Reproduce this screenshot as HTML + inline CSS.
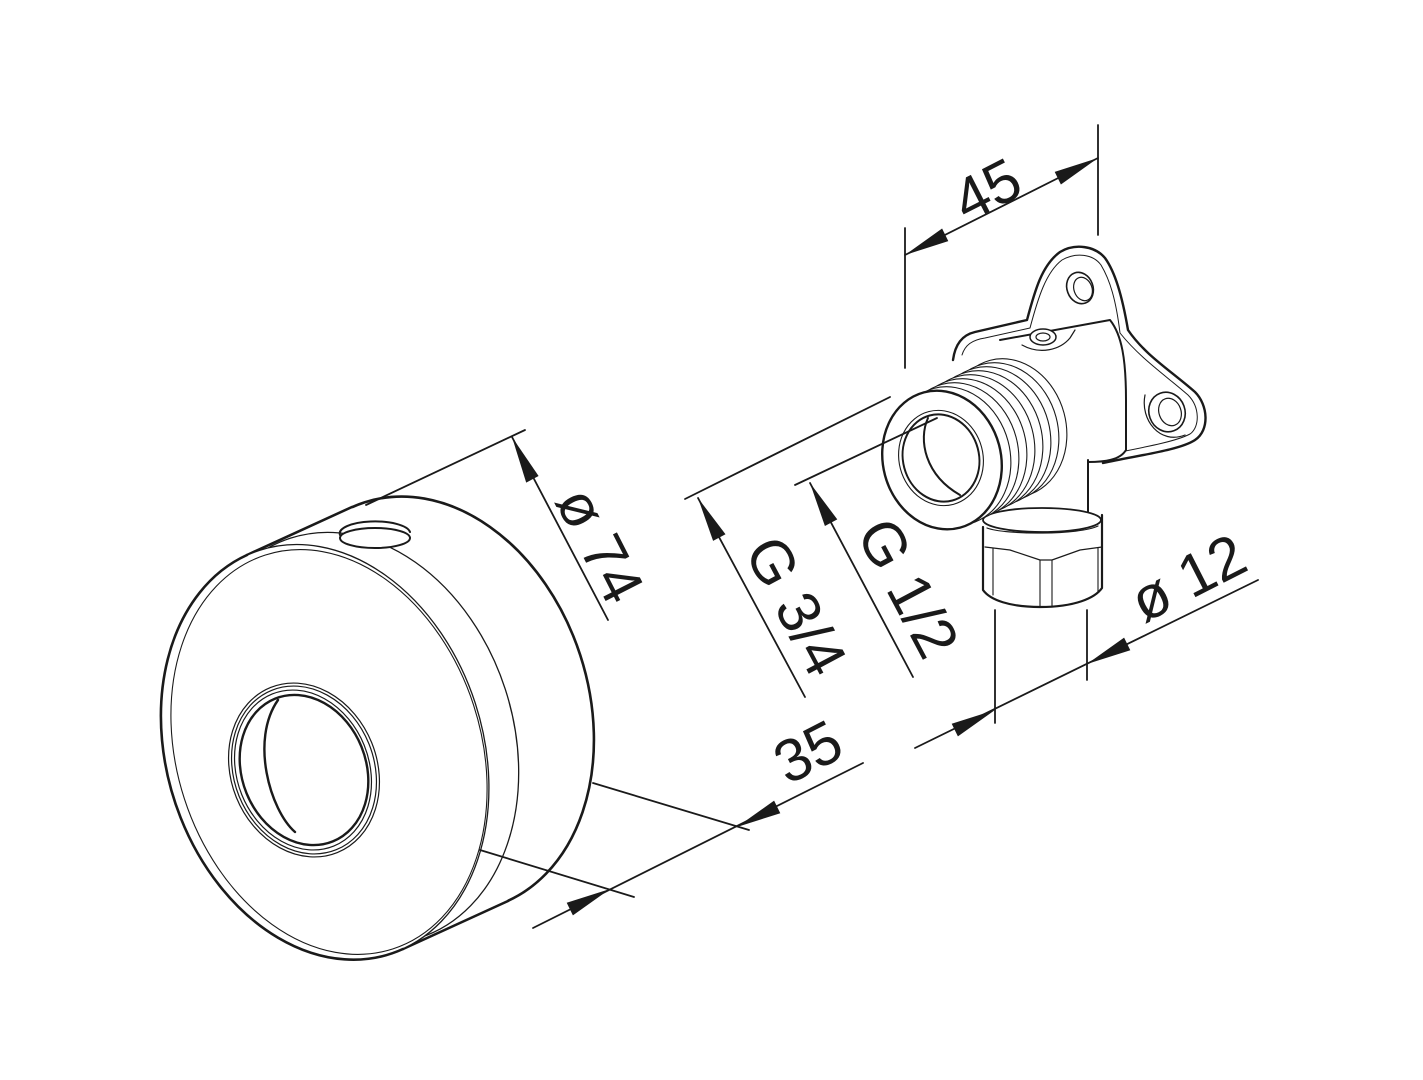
<!DOCTYPE html>
<html><head><meta charset="utf-8"><style>
html,body{margin:0;padding:0;background:#fff;}
svg{display:block;}
text{font-family:"Liberation Sans",sans-serif;font-size:60px;fill:#1a1a1a;}
</style></head><body>
<svg width="1423" height="1080" viewBox="0 0 1423 1080" xmlns="http://www.w3.org/2000/svg">
<g fill="none" stroke="#1a1a1a" stroke-linecap="round" stroke-linejoin="round">

<!-- ROSETTE -->
<ellipse cx="430" cy="704" rx="158" ry="212" transform="rotate(-18 430 704)" stroke-width="2.6" fill="#fff"/>
<polygon points="247,555 352,507 508,901 403,949" fill="#fff" stroke="none"/>
<line x1="247" y1="555" x2="352" y2="507" stroke-width="2.6"/>
<line x1="403" y1="949" x2="508" y2="901" stroke-width="2.6"/>
<ellipse cx="355" cy="738" rx="158" ry="210" transform="rotate(-18 355 738)" stroke-width="1.3"/>
<ellipse cx="325" cy="752" rx="158" ry="212" transform="rotate(-18 325 752)" stroke-width="1.3" fill="#fff"/>
<path d="M247,555 A158,212 -18 0 0 403,949" stroke-width="2.6"/>
<ellipse cx="329" cy="752" rx="152" ry="207" transform="rotate(-18 329 752)" stroke-width="1.1"/>
<!-- cap button -->
<path d="M340,535 A35,12 0 0 1 410,532" stroke-width="2"/>
<ellipse cx="375" cy="538" rx="35" ry="10" stroke-width="2" fill="#fff"/>
<!-- hole -->
<ellipse cx="304" cy="770" rx="73" ry="89" transform="rotate(-22 304 770)" stroke-width="1.2"/>
<ellipse cx="304" cy="770" rx="70" ry="86" transform="rotate(-22 304 770)" stroke-width="1.2"/>
<ellipse cx="303" cy="770" rx="66" ry="82" transform="rotate(-22 303 770)" stroke-width="1.2"/>
<ellipse cx="304" cy="770" rx="62" ry="77" transform="rotate(-22 304 770)" stroke-width="2.4"/>
<path d="M278,700 C250,740 270,810 295,832" stroke-width="2.4"/>

<!-- FITTING -->
<path d="M953,360 C955,345 962,335 975,332 L1027,320 C1035,290 1042,265 1060,252 C1075,243 1095,246 1105,258 C1115,272 1122,295 1128,330 C1145,355 1170,370 1195,392 C1208,405 1210,430 1195,440 C1180,450 1140,455 1103,463" stroke-width="2.4" fill="#fff"/>
<path d="M962,355 C965,345 972,340 985,338 L1030,328 C1038,298 1046,272 1062,260 C1076,252 1093,254 1101,265 C1110,280 1116,300 1120,333 C1140,358 1165,375 1188,395 C1200,407 1200,427 1190,434 C1175,442 1140,448 1105,455" stroke-width="1"/>
<ellipse cx="1080" cy="288" rx="13" ry="16" transform="rotate(-20 1080 288)" stroke-width="1.6"/>
<ellipse cx="1083" cy="289" rx="9" ry="12" transform="rotate(-20 1083 289)" stroke-width="1.2"/>
<ellipse cx="1167" cy="412" rx="18" ry="20" transform="rotate(-20 1167 412)" stroke-width="1.6"/>
<ellipse cx="1170" cy="412" rx="11" ry="14" transform="rotate(-20 1170 412)" stroke-width="1.2"/>
<path d="M1145,395 C1140,420 1160,445 1185,435" stroke-width="1.2"/>
<path d="M1000,340 L1110,320 C1122,335 1126,360 1126,400 L1126,450 C1120,460 1105,462 1088,462" stroke-width="2" fill="#fff"/>
<path d="M1088,460 L1088,512" stroke-width="2"/>
<ellipse cx="1043" cy="337" rx="13" ry="8" stroke-width="1.5" fill="#fff"/>
<ellipse cx="1043" cy="337" rx="7" ry="4" stroke-width="1.2"/>
<path d="M1022,345 C1040,355 1060,350 1070,338 L1075,330" stroke-width="1.2"/>
<!-- nut -->
<path d="M983,527 L983,590 C990,600 1010,607 1040,607 C1075,607 1095,598 1102,588 L1102,515" stroke-width="2.2" fill="#fff"/>
<ellipse cx="1042" cy="520" rx="59" ry="12" stroke-width="1.8" fill="#fff"/>
<path d="M987,528 C1005,535 1080,535 1098,526" stroke-width="1.2"/>
<path d="M985,547 L1010,550 L1040,560 L1052,560 L1080,550 L1102,547" stroke-width="1.2"/>
<line x1="993" y1="548" x2="993" y2="595" stroke-width="1.1"/>
<line x1="1040" y1="560" x2="1040" y2="607" stroke-width="1.1"/>
<line x1="1052" y1="560" x2="1052" y2="607" stroke-width="1.1"/>
<line x1="1098" y1="548" x2="1098" y2="592" stroke-width="1.1"/>
<!-- thread nipple -->
<g fill="#fff">
<ellipse cx="1008" cy="428" rx="58" ry="70" transform="rotate(-15 1008 428)" stroke-width="1.1"/>
<ellipse cx="1000" cy="432" rx="58" ry="70" transform="rotate(-15 1000 432)" stroke-width="1.1"/>
<ellipse cx="992" cy="436" rx="58" ry="70" transform="rotate(-15 992 436)" stroke-width="1.1"/>
<ellipse cx="984" cy="440" rx="58" ry="70" transform="rotate(-15 984 440)" stroke-width="1.1"/>
<ellipse cx="976" cy="444" rx="58" ry="70" transform="rotate(-15 976 444)" stroke-width="1.1"/>
<ellipse cx="968" cy="448" rx="58" ry="70" transform="rotate(-15 968 448)" stroke-width="1.1"/>
<ellipse cx="960" cy="452" rx="58" ry="70" transform="rotate(-15 960 452)" stroke-width="1.1"/>
<ellipse cx="952" cy="456" rx="58" ry="70" transform="rotate(-15 952 456)" stroke-width="1.1"/>
<ellipse cx="942" cy="460" rx="59" ry="70" transform="rotate(-15 942 460)" stroke-width="2.4"/>
</g>
<ellipse cx="941" cy="458" rx="42" ry="48" transform="rotate(-15 941 458)" stroke-width="1.1"/>
<ellipse cx="941" cy="458" rx="38" ry="44" transform="rotate(-15 941 458)" stroke-width="2"/>
<path d="M928,418 C918,440 925,475 960,495" stroke-width="2"/>

<!-- DIMENSIONS -->
<g stroke-width="1.8">
<line x1="366" y1="505" x2="525" y2="430"/>
<line x1="512" y1="437" x2="608" y2="620"/>
<line x1="593" y1="783" x2="749" y2="830"/>
<line x1="480" y1="850" x2="634" y2="897"/>
<line x1="533" y1="928" x2="863" y2="763"/>
<line x1="685" y1="499" x2="890" y2="397"/>
<line x1="698" y1="498" x2="805" y2="697"/>
<line x1="795" y1="485" x2="937" y2="418"/>
<line x1="810" y1="483" x2="913" y2="677"/>
<line x1="905" y1="228" x2="905" y2="368"/>
<line x1="1098" y1="125" x2="1098" y2="235"/>
<line x1="905" y1="255" x2="1098" y2="158"/>
<line x1="995" y1="610" x2="995" y2="723"/>
<line x1="1087" y1="610" x2="1087" y2="680"/>
<line x1="915" y1="748" x2="1258" y2="580"/>
</g>
</g>
<g fill="#1a1a1a" stroke="none">
<polygon points="512,437 538.6,476 526.2,482.6"/>
<polygon points="698,498 725.5,534.3 713.1,540.9"/>
<polygon points="810,483 837.3,519.4 824.9,526"/>
<polygon points="905,255 948.3,241.1 942.1,228.5"/>
<polygon points="1098,158 1060.9,184.5 1054.7,171.9"/>
<polygon points="610,889 572.9,915.4 566.7,902.8"/>
<polygon points="737,827 780.3,813.2 774.1,800.6"/>
<polygon points="995,710 957.9,736.4 951.7,723.8"/>
<polygon points="1087,664 1130.3,650.2 1124.1,637.6"/>
</g>
<g dominant-baseline="central" text-anchor="middle">
<text x="0" y="0" transform="translate(600,545) rotate(63)">ø 74</text>
<text x="0" y="0" transform="translate(796,606) rotate(62)">G 3/4</text>
<text x="0" y="0" transform="translate(908,588) rotate(62)">G 1/2</text>
<text x="0" y="0" transform="translate(987,190) rotate(-27)">45</text>
<text x="0" y="0" transform="translate(808,752) rotate(-27)">35</text>
<text x="0" y="0" transform="translate(1188,578) rotate(-27)">ø 12</text>
</g>
</svg>
</body></html>
